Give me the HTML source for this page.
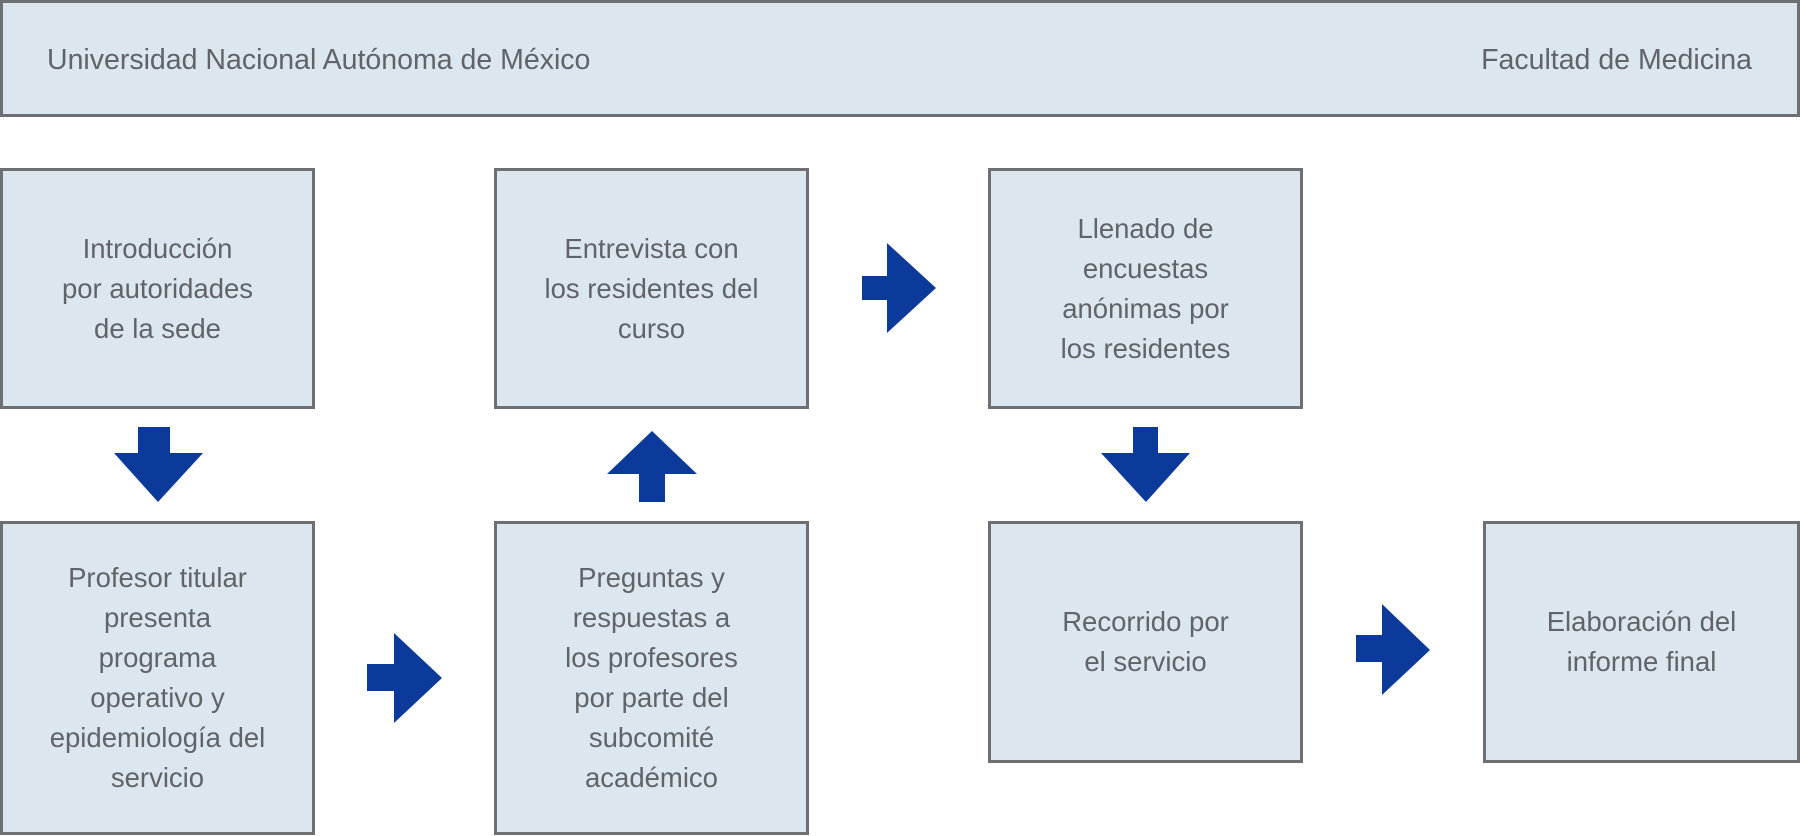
<!DOCTYPE html>
<html><head><meta charset="utf-8"><style>
body{margin:0;width:1800px;height:836px;background:#fff;position:relative;overflow:hidden;font-family:"Liberation Sans",sans-serif;color:#606468}
.b{position:absolute;background:#dce6ee;border:3px solid #6d6f72;box-sizing:border-box;display:flex;align-items:center;justify-content:center;text-align:center;font-size:27.5px;line-height:40px}
.t{position:absolute;font-size:28.5px;top:44px}
svg{position:absolute;left:0;top:0}
</style></head><body>
<div class="b" style="left:0;top:0;width:1800px;height:117px"></div>
<div class="t" style="left:47px">Universidad Nacional Autónoma de México</div>
<div class="t" style="right:48px">Facultad de Medicina</div>
<div class="b" style="left:0;top:168px;width:315px;height:241px">Introducción<br>por autoridades<br>de la sede</div>
<div class="b" style="left:494px;top:168px;width:315px;height:241px">Entrevista con<br>los residentes del<br>curso</div>
<div class="b" style="left:988px;top:168px;width:315px;height:241px">Llenado de<br>encuestas<br>anónimas por<br>los residentes</div>
<div class="b" style="left:0;top:521px;width:315px;height:314px">Profesor titular<br>presenta<br>programa<br>operativo y<br>epidemiología del<br>servicio</div>
<div class="b" style="left:494px;top:521px;width:315px;height:314px">Preguntas y<br>respuestas a<br>los profesores<br>por parte del<br>subcomité<br>académico</div>
<div class="b" style="left:988px;top:521px;width:315px;height:242px">Recorrido por<br>el servicio</div>
<div class="b" style="left:1483px;top:521px;width:317px;height:242px">Elaboración del<br>informe final</div>
<svg width="1800" height="836" fill="#0b3a9b">
<polygon points="138,427 170,427 170,453 203,453 158,502 114,453 138,453"/>
<polygon points="639,502 665,502 665,474 697,474 652,431 607,474 639,474"/>
<polygon points="862,276 887,276 887,243 936,288 887,333 887,300 862,300"/>
<polygon points="1133,427 1158,427 1158,453 1190,453 1146,502 1101,453 1133,453"/>
<polygon points="367,664 394,664 394,633 442,678 394,723 394,691 367,691"/>
<polygon points="1356,635 1382,635 1382,604 1430,650 1382,695 1382,662 1356,662"/>
</svg>
</body></html>
